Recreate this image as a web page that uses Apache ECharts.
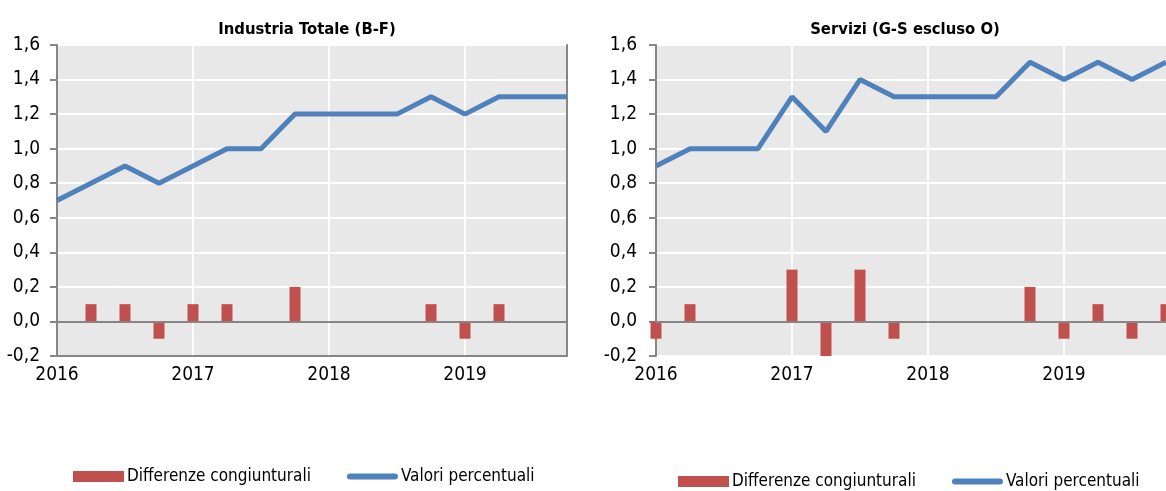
<!DOCTYPE html>
<html>
<head>
<meta charset="utf-8">
<script src="https://cdn.jsdelivr.net/npm/echarts@6/dist/echarts.min.js"></script>
<style>
  html, body { margin: 0; padding: 0; background: #fff; }
  #chart { width: 1166px; height: 491px; }
</style>
</head>
<body>
<div id="chart"></div>
<script>
// trimestri 2016-2019
const quarters = [
  "2016 T1", "2016 T2", "2016 T3", "2016 T4",
  "2017 T1", "2017 T2", "2017 T3", "2017 T4",
  "2018 T1", "2018 T2", "2018 T3", "2018 T4",
  "2019 T1", "2019 T2", "2019 T3", "2019 T4"
];
const yearTicks = ["2016", "2017", "2018", "2019"];

// Industria Totale (B-F)
const industriaValori = [0.7, 0.8, 0.9, 0.8, 0.9, 1.0, 1.0, 1.2, 1.2, 1.2, 1.2, 1.3, 1.2, 1.3, 1.3, 1.3];
const industriaDiff = [0, 0.1, 0.1, -0.1, 0.1, 0.1, 0, 0.2, 0, 0, 0, 0.1, -0.1, 0.1, 0, 0];

// Servizi (G-S escluso O)
const serviziValori = [0.9, 1.0, 1.0, 1.0, 1.3, 1.1, 1.4, 1.3, 1.3, 1.3, 1.3, 1.5, 1.4, 1.5, 1.4, 1.5];
const serviziDiff = [-0.1, 0.1, 0, 0, 0.3, -0.2, 0.3, -0.1, 0, 0, 0, 0.2, -0.1, 0.1, -0.1, 0.1];

const FONT = "'Liberation Sans Narrow', 'DejaVu Sans Condensed', 'Liberation Sans', sans-serif";
const AXIS_GRAY = "#868686";
const BG_GRAY = "#e8e8e8";
const RED = "#c0504d";
const BLUE = "#4f81bd";
// icona a "pillola" per la linea in legenda
const LINE_ICON = "path://M3,0 L47,0 A3,3 0 0 1 47,6 L3,6 A3,3 0 0 1 3,0 Z";

const chart = echarts.init(document.getElementById("chart"));

function xAxisFor(gridIndex, showLine) {
  return {
    type: "category",
    gridIndex: gridIndex,
    data: quarters,
    boundaryGap: false,
    axisLine: { show: showLine, onZero: false, lineStyle: { color: AXIS_GRAY, width: 2 } },
    axisTick: { show: false },
    axisLabel: {
      interval: 3,
      margin: 10,
      color: "#000",
      fontFamily: FONT,
      fontSize: 19,
      formatter: function (v) { return yearTicks[quarters.indexOf(v) / 4]; }
    },
    splitLine: { show: true, interval: 3, lineStyle: { color: "#fff", width: 2 } }
  };
}

function yAxisFor(gridIndex, margin) {
  return {
    type: "value",
    gridIndex: gridIndex,
    min: -0.2,
    max: 1.6,
    interval: 0.2,
    axisLine: { show: true, lineStyle: { color: AXIS_GRAY, width: 2 } },
    axisTick: { show: true, length: 7, lineStyle: { color: AXIS_GRAY, width: 2 } },
    axisLabel: {
      margin: margin,
      color: "#000",
      fontFamily: FONT,
      fontSize: 19,
      formatter: function (v) { return v.toFixed(1).replace(".", ","); }
    },
    splitLine: { show: true, lineStyle: { color: "#fff", width: 2 } }
  };
}

function legendAt(left, top) {
  return {
    left: left, top: top, width: 520, itemWidth: 51, itemHeight: 11, itemGap: 36,
    textStyle: { fontFamily: FONT, fontSize: 17, color: "#000", padding: [0, 0, 0, -2] },
    data: [
      { name: "Differenze congiunturali", icon: "rect" },
      { name: "Valori percentuali", icon: LINE_ICON, itemStyle: { color: BLUE } }
    ]
  };
}

const zeroLine = {
  silent: true,
  symbol: "none",
  label: { show: false },
  lineStyle: { color: AXIS_GRAY, type: "solid", width: 2 },
  data: [{ yAxis: 0 }]
};

chart.setOption({
  animation: false,
  title: [
    { text: "Industria Totale (B-F)", left: 302, top: 16, textAlign: "center",
      textStyle: { fontFamily: FONT, fontSize: 16.5, fontWeight: "bold", color: "#000" } },
    { text: "Servizi (G-S escluso O)", left: 900, top: 16, textAlign: "center",
      textStyle: { fontFamily: FONT, fontSize: 16.5, fontWeight: "bold", color: "#000" } }
  ],
  legend: [legendAt(68, 463), legendAt(673, 468)],
  grid: [
    { left: 57, top: 45, width: 510, height: 311, show: true, backgroundColor: BG_GRAY, borderWidth: 0 },
    { left: 656, top: 45, width: 510, height: 311, show: true, backgroundColor: BG_GRAY, borderWidth: 0 }
  ],
  xAxis: [xAxisFor(0, true), xAxisFor(1, false)],
  yAxis: [
    yAxisFor(0, 17),
    yAxisFor(1, 19),
    // bordo destro del pannello sinistro
    { type: "value", gridIndex: 0, position: "right", min: -0.2, max: 1.6,
      axisLine: { show: true, lineStyle: { color: AXIS_GRAY, width: 2 } },
      axisTick: { show: false }, axisLabel: { show: false }, splitLine: { show: false } }
  ],
  series: [
    { name: "Differenze congiunturali", type: "bar", xAxisIndex: 0, yAxisIndex: 0,
      barWidth: 11, itemStyle: { color: RED }, data: industriaDiff, markLine: zeroLine, z: 2 },
    { name: "Valori percentuali", type: "line", xAxisIndex: 0, yAxisIndex: 0,
      symbol: "none", lineStyle: { color: BLUE, width: 5 }, itemStyle: { color: BLUE },
      data: industriaValori, z: 3 },
    { name: "Differenze congiunturali", type: "bar", xAxisIndex: 1, yAxisIndex: 1,
      barWidth: 11, itemStyle: { color: RED }, data: serviziDiff, markLine: zeroLine, z: 2 },
    { name: "Valori percentuali", type: "line", xAxisIndex: 1, yAxisIndex: 1,
      symbol: "none", lineStyle: { color: BLUE, width: 5 }, itemStyle: { color: BLUE },
      data: serviziValori, z: 3 }
  ]
});
</script>
</body>
</html>
